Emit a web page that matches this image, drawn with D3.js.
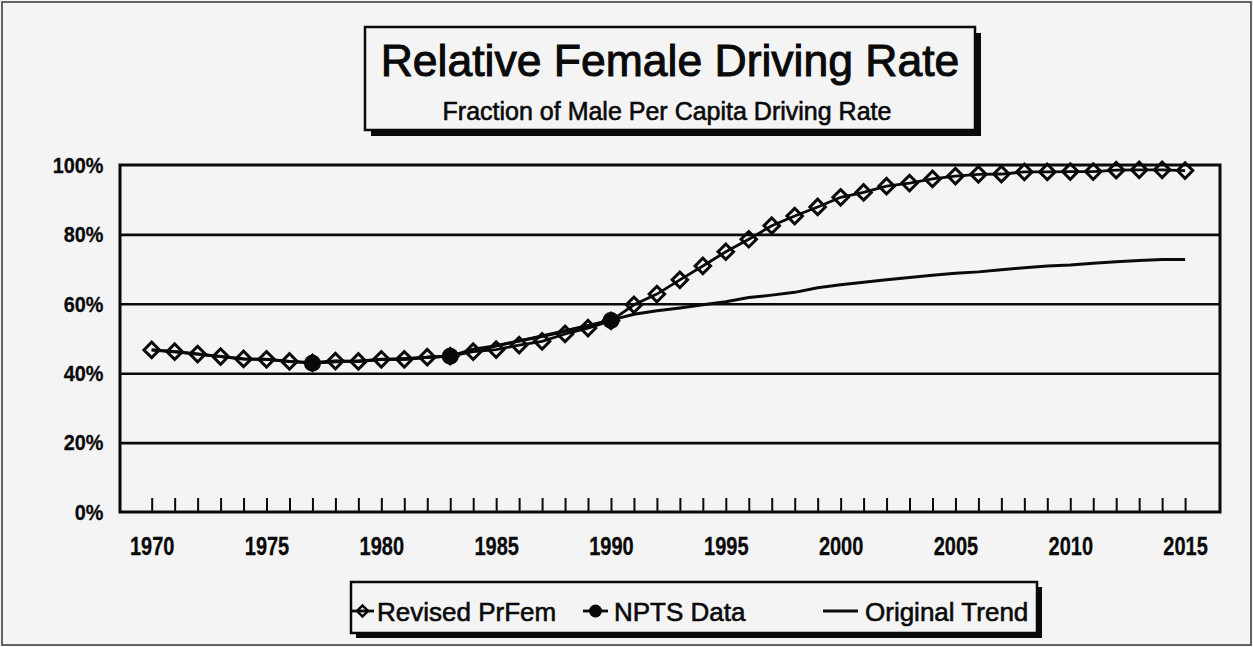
<!DOCTYPE html>
<html>
<head>
<meta charset="utf-8">
<script src="https://cdn.jsdelivr.net/npm/d3@7"></script>
<style>
  body { margin: 0; background: #f4f4f4; }
  svg { display: block; font-family: "Liberation Sans", Arial, sans-serif; }
</style>
</head>
<body>
<div id="canvas"></div>
<script>
// ---- data ----
const years = [1970,1971,1972,1973,1974,1975,1976,1977,1978,1979,
               1980,1981,1982,1983,1984,1985,1986,1987,1988,1989,
               1990,1991,1992,1993,1994,1995,1996,1997,1998,1999,
               2000,2001,2002,2003,2004,2005,2006,2007,2008,2009,
               2010,2011,2012,2013,2014,2015];
const revisedPrFem = [46.7,46.2,45.5,44.8,44.1,44.0,43.4,43.0,43.5,43.4,
                      44.0,44.0,44.6,44.9,46.2,46.8,48.1,49.2,51.3,53.0,
                      55.1,59.7,62.8,66.9,70.9,75.0,78.6,82.5,85.3,87.9,
                      90.7,92.1,93.9,94.8,96.0,96.8,97.3,97.4,98.0,98.0,
                      98.1,98.1,98.5,98.6,98.6,98.4];
const originalTrend = [46.7,46.2,45.5,44.8,44.1,44.0,43.4,43.0,43.5,43.4,
                       44.0,44.0,44.6,44.9,46.9,47.9,49.3,50.6,52.1,53.7,
                       55.3,57.0,58.0,58.8,59.7,60.6,61.8,62.5,63.3,64.6,
                       65.5,66.2,66.9,67.6,68.2,68.8,69.2,69.8,70.4,70.9,
                       71.2,71.7,72.1,72.5,72.8,72.8];
const nptsYears = [1977, 1983, 1990];
const nptsData = [42.9, 44.9, 55.2];
const yTicks = [0, 20, 40, 60, 80, 100];
const xLabelYears = [1970,1975,1980,1985,1990,1995,2000,2005,2010,2015];
const legendLabels = ["Revised PrFem", "NPTS Data", "Original Trend"];
const titleText = "Relative Female Driving Rate";
const subtitleText = "Fraction of Male Per Capita Driving Rate";

const W = 1253, H = 647;
const BG = "#f4f4f4", INK = "#0a0a0a";
const plot = { left: 120, right: 1220, top: 165, bottom: 512 };

const svg = d3.select("#canvas").append("svg")
  .attr("width", W).attr("height", H);

svg.append("rect").attr("x", 2).attr("y", 2).attr("width", W - 4).attr("height", H - 4)
  .attr("fill", BG).attr("stroke", "#333").attr("stroke-width", 1.5);

const x = d3.scaleLinear().domain([1968.62, 2016.52]).range([plot.left, plot.right]);
const y = d3.scaleLinear().domain([0, 100]).range([plot.bottom, plot.top]);

// scanned print looks heavy, so every text gets a thin outline
const heavy = (sel, w) => sel.attr("stroke", INK).attr("stroke-width", w).attr("paint-order", "stroke");

// gridlines
svg.append("g")
  .attr("transform", `translate(${plot.left},0)`)
  .call(d3.axisLeft(y).tickValues([20, 40, 60, 80]).tickSize(-(plot.right - plot.left)).tickFormat(""))
  .call(g => g.select(".domain").remove())
  .call(g => g.selectAll("line").attr("stroke", INK).attr("stroke-width", 2.6));

// y labels
svg.append("g")
  .attr("transform", `translate(${plot.left},0)`)
  .call(d3.axisLeft(y).tickValues(yTicks).tickSize(0).tickPadding(19).tickFormat(d => d + "%"))
  .call(g => g.select(".domain").remove())
  .call(g => heavy(g.selectAll("text")
    .attr("fill", INK).attr("font-size", 22.5).attr("font-weight", "bold")
    .attr("font-family", "Liberation Sans, Arial, sans-serif")
    .attr("transform", "scale(0.88,1)"), 0.3));

// x ticks (every year, pointing up) and labels every 5 years
svg.append("g")
  .attr("transform", `translate(0,${plot.bottom})`)
  .call(d3.axisBottom(x).tickValues(years).tickSize(-14).tickPadding(25)
    .tickFormat(d => xLabelYears.includes(d) ? d : ""))
  .call(g => g.select(".domain").remove())
  .call(g => g.selectAll("line").attr("stroke", INK).attr("stroke-width", 2))
  .call(g => heavy(g.selectAll("text")
    .attr("fill", INK).attr("font-size", 25).attr("font-weight", "bold")
    .attr("font-family", "Liberation Sans, Arial, sans-serif")
    .attr("transform", "scale(0.8,1)"), 0.3));

// plot frame
svg.append("rect")
  .attr("x", plot.left).attr("y", plot.top)
  .attr("width", plot.right - plot.left).attr("height", plot.bottom - plot.top)
  .attr("fill", "none").attr("stroke", INK).attr("stroke-width", 3);

// series
const line = d3.line().x(d => x(d[0])).y(d => y(d[1]));
const trendPts = years.map((yr, i) => [yr, originalTrend[i]]);
const revPts = years.map((yr, i) => [yr, revisedPrFem[i]]);
const nptsPts = nptsYears.map((yr, i) => [yr, nptsData[i]]);

svg.append("path").datum(trendPts).attr("d", line)
  .attr("fill", "none").attr("stroke", INK).attr("stroke-width", 3);
svg.append("path").datum(revPts).attr("d", line)
  .attr("fill", "none").attr("stroke", INK).attr("stroke-width", 2.8);
svg.append("path").datum(nptsPts).attr("d", line)
  .attr("fill", "none").attr("stroke", INK).attr("stroke-width", 2.8);

const diamond = d3.symbol().type(d3.symbolSquare).size(120);
svg.selectAll(".rev").data(revPts).enter().append("path")
  .attr("class", "rev")
  .attr("d", diamond)
  .attr("transform", d => `translate(${x(d[0])},${y(d[1])}) rotate(45)`)
  .attr("fill", "none").attr("stroke", INK).attr("stroke-width", 3);

svg.selectAll(".npts").data(nptsPts).enter().append("circle")
  .attr("class", "npts")
  .attr("cx", d => x(d[0])).attr("cy", d => y(d[1])).attr("r", 8.5)
  .attr("fill", INK);

// title box
const tb = { x: 365, y: 27, w: 610, h: 103 };
svg.append("rect").attr("x", tb.x + 6).attr("y", tb.y + 6).attr("width", tb.w).attr("height", tb.h).attr("fill", INK);
svg.append("rect").attr("x", tb.x).attr("y", tb.y).attr("width", tb.w).attr("height", tb.h)
  .attr("fill", BG).attr("stroke", INK).attr("stroke-width", 2.5);
heavy(svg.append("text").attr("x", 670).attr("y", 76).attr("text-anchor", "middle")
  .attr("font-size", 44.5).attr("fill", INK).text(titleText), 1);
heavy(svg.append("text").attr("x", 667).attr("y", 120).attr("text-anchor", "middle")
  .attr("font-size", 25).attr("fill", INK).text(subtitleText), 0.6);

// legend
const lb = { x: 351, y: 582, w: 686, h: 51 };
svg.append("rect").attr("x", lb.x + 5).attr("y", lb.y + 5).attr("width", lb.w).attr("height", lb.h).attr("fill", INK);
svg.append("rect").attr("x", lb.x).attr("y", lb.y).attr("width", lb.w).attr("height", lb.h)
  .attr("fill", BG).attr("stroke", INK).attr("stroke-width", 2.5);

const ly = 611;
const legendItems = [
  { label: legendLabels[0], x0: 351, x1: 374, tx: 377, mark: "diamond" },
  { label: legendLabels[1], x0: 583, x1: 608, tx: 614, mark: "dot" },
  { label: legendLabels[2], x0: 823, x1: 858, tx: 865, mark: "none" }
];
const lg = svg.append("g");
legendItems.forEach(it => {
  lg.append("line").attr("x1", it.x0).attr("x2", it.x1).attr("y1", ly).attr("y2", ly)
    .attr("stroke", INK).attr("stroke-width", 2.8);
  const cx = (it.x0 + it.x1) / 2;
  if (it.mark === "diamond") {
    lg.append("path").attr("d", d3.symbol().type(d3.symbolSquare).size(60))
      .attr("transform", `translate(${cx},${ly}) rotate(45)`)
      .attr("fill", "none").attr("stroke", INK).attr("stroke-width", 2.6);
  } else if (it.mark === "dot") {
    lg.append("circle").attr("cx", cx).attr("cy", ly).attr("r", 6.5).attr("fill", INK);
  }
  heavy(lg.append("text").attr("x", it.tx).attr("y", 621).attr("font-size", 26)
    .attr("fill", INK).text(it.label), 0.6);
});
</script>
</body>
</html>
